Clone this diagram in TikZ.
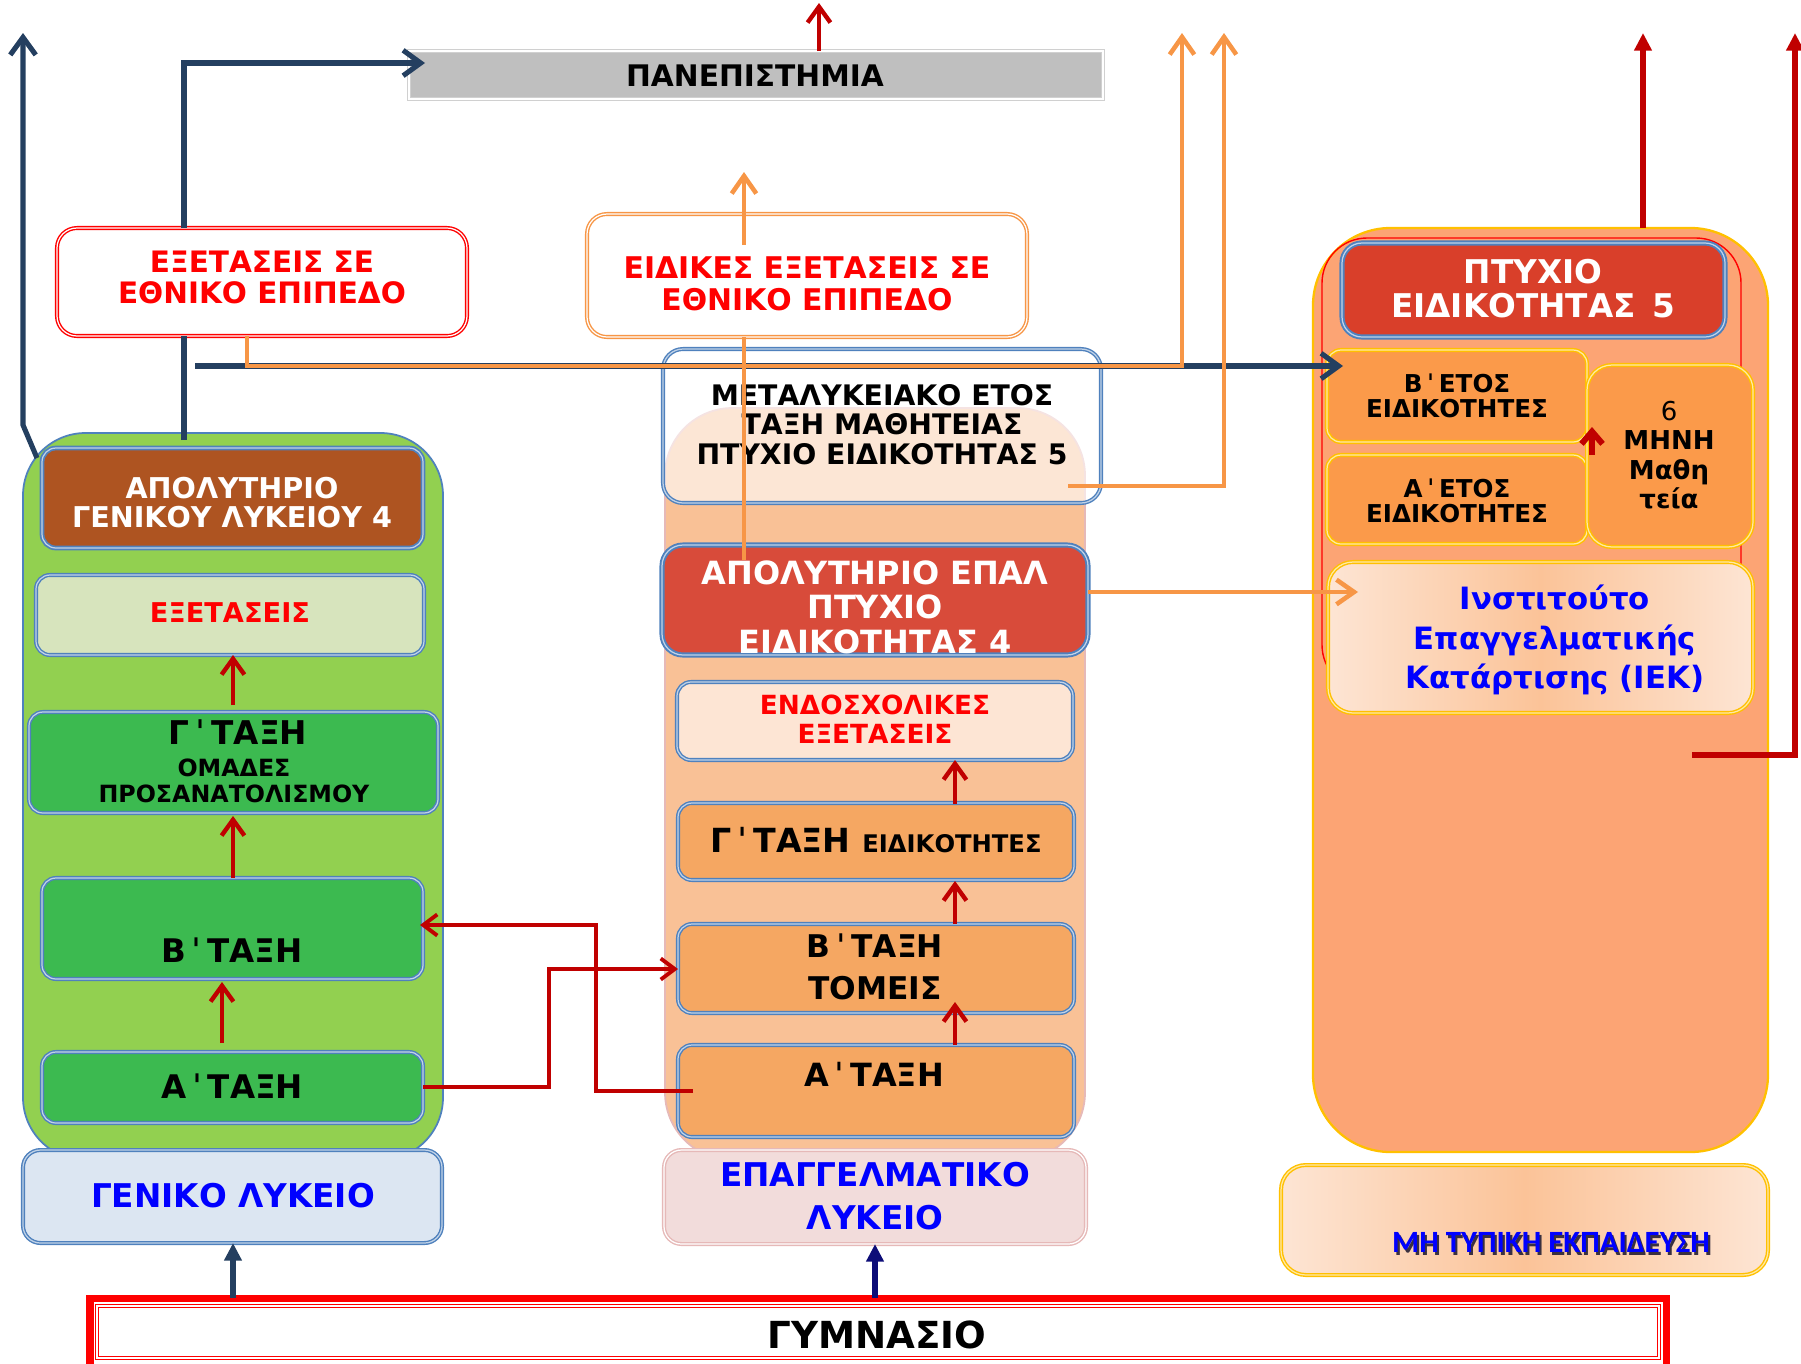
\documentclass[tikz,border=0pt]{standalone}
\usepackage{fontspec}
\setmainfont{DejaVu Sans}
\newfontfamily\calfont{Carlito}
\usetikzlibrary{arrows.meta}
\definecolor{cNavy}{HTML}{243F60}
\definecolor{cNavyB}{HTML}{0D0D78}
\definecolor{cDRed}{HTML}{C00000}
\definecolor{cOrange}{HTML}{F79646}
\definecolor{cBlueB}{HTML}{4F81BD}
\definecolor{cGreenCol}{HTML}{92D050}
\definecolor{cGreenBox}{HTML}{3CBA50}
\definecolor{cGreenLt}{HTML}{D7E4BD}
\definecolor{cBrown}{HTML}{AE5421}
\definecolor{cPeachCol}{HTML}{F9C196}
\definecolor{cPeachLt}{HTML}{FDE5D4}
\definecolor{cEpalBox}{HTML}{F5A762}
\definecolor{cEpalRed}{HTML}{D84B3A}
\definecolor{cPinkF}{HTML}{F2DCDB}
\definecolor{cPinkB}{HTML}{E6B9B8}
\definecolor{cGenF}{HTML}{DCE6F2}
\definecolor{cSalmon}{HTML}{FCA474}
\definecolor{cGold}{HTML}{FFC000}
\definecolor{cPtyxio}{HTML}{D93F2A}
\definecolor{cEtos}{HTML}{FB9A4A}
\definecolor{cIekMid}{HTML}{FBC398}
\definecolor{cTxtBlue}{HTML}{0000FF}
\definecolor{cTxtRed}{HTML}{FF0000}
\definecolor{cGray}{HTML}{BFBFBF}
\definecolor{cGrayB}{HTML}{D0D0D0}
\definecolor{cShadow}{HTML}{3A3040}
\newcommand\fs[2]{\fontsize{#1pt}{#2pt}\selectfont\bfseries}
\newcommand\tk{\kern0.18em ˈ\kern0.18em}
\newcommand\shadowed[1]{\rlap{\kern1.2pt\raisebox{-1.4pt}{\color{cShadow}#1}}#1}
\newcommand\mkbox[6][]{\node[inner sep=0pt,outer sep=0pt,#1,minimum width={(#5-#3)*0.02cm},minimum height={(#6-#4)*0.02cm}] (#2) at ({(#3+#5)/2},{(#4+#6)/2}) {};}
\pgfdeclarelayer{cols}
\pgfsetlayers{cols,main}
\tikzset{
  box/.style={rounded corners=0.28cm, line width=0.8pt, double distance=0.7pt},
  bluebox/.style={box, draw=cBlueB, double=cBlueB!35},
  goldbox/.style={box, draw=cGold, double=cGold!35!white},
  grad/.style={left color=cPeachLt, right color=cPeachLt, middle color=cIekMid},
  lbl/.style={align=center, inner sep=0pt},
  redarr/.style={draw=cDRed, line width=2.5pt, -{Straight Barb[length=9pt,width=13pt]}},
  conn/.style={draw=cDRed, line width=2.2pt, -{Straight Barb[length=8pt,width=12pt]}},
  navyline/.style={draw=cNavy, line width=2.9pt},
  navyarr/.style={navyline, -{Straight Barb[length=10pt,width=14.5pt]}},
  orline/.style={draw=cOrange, line width=2.6pt},
  orarr/.style={orline, -{Straight Barb[length=10pt,width=14pt]}},
  triarr/.style={line width=2.9pt, -{Triangle[length=10pt,width=9.6pt]}},
  mhfont/.style={font=\calfont\bfseries\fontsize{17.6}{20}\selectfont}
}
\begin{document}
\begin{tikzpicture}[x=0.02cm,y=-0.02cm]
\useasboundingbox (0,0) rectangle (1801,1363);
% ---------- columns ----------
\begin{pgfonlayer}{cols}
\mkbox[draw=cBlueB,line width=1pt,fill=cGreenCol,rounded corners=1.25cm]{gcol}{23}{433}{443}{1160}
\mkbox[draw=cPinkB,line width=1pt,fill=cPeachCol,rounded corners=1.35cm]{ecol}{665}{408}{1085}{1160}
\mkbox[draw=cGold,line width=1.3pt,fill=cSalmon,rounded corners=1.55cm]{rcol}{1313}{228}{1768}{1152}
\mkbox[draw=red,line width=0.8pt,rounded corners=0.9cm]{rin}{1322}{238}{1741}{690}
\end{pgfonlayer}
% ---------- boxes ----------
\mkbox[fill=cGray,draw=cGrayB,double=white,line width=0.8pt,double distance=0.8pt]{uni}{409}{51}{1103}{99}
\mkbox[box,fill=white,draw=red,double=white,rounded corners=0.4cm]{exam1}{57}{228}{467}{336}
\mkbox[box,fill=white,draw=cOrange,double=white,rounded corners=0.4cm]{exam2}{587}{214}{1027}{337}
\mkbox[bluebox,fill=white,fill opacity=0.6,rounded corners=0.4cm]{meta}{663}{349}{1101}{503}
\mkbox[bluebox,fill=cEpalRed,line width=1.1pt,rounded corners=0.42cm]{apoE}{662}{545}{1088}{655}
\mkbox[bluebox,fill=cPeachLt]{endo}{677}{682}{1073}{760}
\mkbox[bluebox,fill=cEpalBox]{gE}{678}{803}{1074}{880}
\mkbox[bluebox,fill=cEpalBox]{bE}{678}{924}{1074}{1013}
\mkbox[bluebox,fill=cEpalBox]{aE}{678}{1045}{1074}{1137}
\mkbox[box,fill=cPinkF,draw=cPinkB,double=white,rounded corners=0.35cm]{epal}{664}{1150}{1086}{1244}
\mkbox[bluebox,fill=cGenF,rounded corners=0.35cm]{gen}{23}{1150}{442}{1243}
\mkbox[draw=red,line width=4pt,fill=white]{gym}{90}{1298}{1666}{1420}
\mkbox[draw=red,double=white,line width=0.5pt,double distance=0.8pt]{gymi}{97}{1306}{1659}{1358}
\mkbox[bluebox,fill=cBrown,line width=1pt]{apoG}{42}{448}{423}{548}
\mkbox[bluebox,fill=cGreenLt]{exG}{36}{575}{424}{655}
\mkbox[bluebox,fill=cGreenBox]{gG}{29}{712}{438}{813}
\mkbox[bluebox,fill=cGreenBox]{bG}{42}{878}{423}{979}
\mkbox[bluebox,fill=cGreenBox]{aG}{42}{1052}{423}{1123}
\mkbox[bluebox,fill=cPtyxio,line width=1.1pt,rounded corners=0.4cm]{pt5}{1342}{243}{1725}{337}
\mkbox[goldbox,fill=cEtos]{betos}{1327}{350}{1587}{442}
\mkbox[goldbox,fill=cEtos]{aetos}{1327}{455}{1587}{544}
\mkbox[goldbox,fill=cEtos,rounded corners=0.5cm]{mina}{1587}{365}{1753}{547}
\mkbox[goldbox,grad,rounded corners=0.5cm]{iek}{1328}{562}{1753}{713}
\mkbox[goldbox,grad,rounded corners=0.5cm]{mh}{1281}{1165}{1768}{1275}
% ---------- texts ----------
\node[lbl,font=\fs{16.9}{18}] (uniT) at (755,75.5) {ΠΑΝΕΠΙΣΤΗΜΙΑ};
\node[lbl,font=\fs{16.8}{17.6},text=cTxtRed] (ex1T) at (262,277.5) {ΕΞΕΤΑΣΕΙΣ ΣΕ\\ΕΘΝΙΚΟ ΕΠΙΠΕΔΟ};
\node[lbl,font=\fs{17}{18},text=cTxtRed] (ex2T) at (807,284) {ΕΙΔΙΚΕΣ ΕΞΕΤΑΣΕΙΣ ΣΕ\\ΕΘΝΙΚΟ ΕΠΙΠΕΔΟ};
\node[lbl,font=\fs{16.1}{16.7}] (metaT) at (882,424.5) {ΜΕΤΑΛΥΚΕΙΑΚΟ ΕΤΟΣ\\ΤΑΞΗ ΜΑΘΗΤΕΙΑΣ\\ΠΤΥΧΙΟ ΕΙΔΙΚΟΤΗΤΑΣ 5};
\node[lbl,font=\fs{18.2}{19.6},text=white] (apoET) at (875,607) {ΑΠΟΛΥΤΗΡΙΟ ΕΠΑΛ\\ΠΤΥΧΙΟ\\ΕΙΔΙΚΟΤΗΤΑΣ 4};
\node[lbl,font=\fs{15}{16.4},text=cTxtRed] (endoT) at (875,719) {ΕΝΔΟΣΧΟΛΙΚΕΣ\\ΕΞΕΤΑΣΕΙΣ};
\node[lbl] (gET) at (876,840) {\fs{18.9}{20}Γ\tk ΤΑΞΗ {\fs{13.8}{14}ΕΙΔΙΚΟΤΗΤΕΣ}};
\node[lbl,font=\fs{17.8}{23.8}] (bET) at (875,967) {Β\tk ΤΑΞΗ\\ΤΟΜΕΙΣ};
\node[lbl,font=\fs{18.2}{20}] (aET) at (874,1074.5) {Α\tk ΤΑΞΗ};
\node[lbl,font=\fs{18.6}{24.4},text=cTxtBlue] (epalT) at (875,1196) {ΕΠΑΓΓΕΛΜΑΤΙΚΟ\\ΛΥΚΕΙΟ};
\node[lbl,font=\fs{18.6}{20},text=cTxtBlue] (genT) at (233,1196) {ΓΕΝΙΚΟ ΛΥΚΕΙΟ};
\node[lbl,font=\fs{21.2}{22}] (gymT) at (877,1334.5) {ΓΥΜΝΑΣΙΟ};
\node[lbl,font=\fs{16.3}{16.4},text=white] (apoGT) at (232,502.5) {ΑΠΟΛΥΤΗΡΙΟ\\ΓΕΝΙΚΟΥ ΛΥΚΕΙΟΥ 4};
\node[lbl,font=\fs{15.5}{17},text=cTxtRed] (exGT) at (230,613) {ΕΞΕΤΑΣΕΙΣ};
\node[lbl,font=\fs{18.6}{20}] (gGT1) at (238,732.5) {Γ\tk ΤΑΞΗ};
\node[lbl,font=\fs{13.5}{14.7}] (gGT2) at (234,781) {ΟΜΑΔΕΣ\\ΠΡΟΣΑΝΑΤΟΛΙΣΜΟΥ};
\node[lbl,font=\fs{18.5}{20}] (bGT) at (232,950) {Β\tk ΤΑΞΗ};
\node[lbl,font=\fs{18.5}{20}] (aGT) at (232,1086.5) {Α\tk ΤΑΞΗ};
\node[lbl,font=\fs{18.6}{19.3},text=white] (ptT) at (1533,288.5) {ΠΤΥΧΙΟ\\ΕΙΔΙΚΟΤΗΤΑΣ\enspace 5};
\node[lbl,font=\fs{14}{14.2}] (betT) at (1457,395.5) {Β\tk ΕΤΟΣ\\ΕΙΔΙΚΟΤΗΤΕΣ};
\node[lbl,font=\fs{14}{14.2}] (aetT) at (1457,501) {Α\tk ΕΤΟΣ\\ΕΙΔΙΚΟΤΗΤΕΣ};
\node[lbl,font=\fs{14.8}{16.7}] (minT) at (1669,455) {{\mdseries 6}\\ΜΗΝΗ\\Μαθη\\τεία};
\node[lbl,font=\fs{17.5}{22.7},text=cTxtBlue] (iekT) at (1555,640) {Ινστιτούτο\\Επαγγελματικής\\Κατάρτισης (ΙΕΚ)};
\node[lbl,mhfont,text=cTxtBlue] (mhT) at (1551,1244) {\shadowed{ΜΗ ΤΥΠΙΚΗ ΕΚΠΑΙΔΕΥΣΗ}};
% ---------- coordinates ----------
\coordinate (uniIn) at (425,63);
\coordinate (gl) at (37,458);
\coordinate (topL) at (23,33);
\coordinate (topO1) at (1182,33);
\coordinate (topO2) at (1224,33);
\coordinate (topR1) at (1643,33);
\coordinate (topR2) at (1795,33);
\coordinate (topU) at (819,3);
\coordinate (ex2Up) at (744,172);
% ---------- connectors ----------
\draw[navyline] (gcol.north -| 184,0) ++(0,7) -- (exam1.south -| 184,0);
\draw[navyarr] (exam1.north -| 184,0) -- (184,63) -- (uniIn);
\draw[navyarr] (gl) -- (23,425) -- (topL);
\draw[navyarr] (195,366) -- (1343,366);
\draw[redarr] (uni.north -| 819,0) -- (topU);
\draw[orarr] (exam1.south -| 247,0) -- (247,366) -- (1182,366) -- (topO1);
\draw[orarr] (1068,486) -- (1224,486) -- (topO2);
\draw[orline] (744,560) -- (exam2.south -| 744,0);
\draw[orarr] (744,245) -- (ex2Up);
\draw[orarr] (1088,592) -- (1358,592);
% green column
\draw[redarr] (233,705) -- (exG.south -| 233,0);
\draw[redarr] (233,878) -- (233,816);
\draw[redarr] (222,1043) -- (222,982);
% EPAL column
\draw[redarr] (955,804) -- (endo.south -| 955,0);
\draw[redarr] (955,924) -- (955,881);
\draw[redarr] (955,1045) -- (955,1002);
% between columns
\draw[conn] (aG.east |- 0,1087) -- (549,1087) -- (549,969) -- (bE.west |- 0,969);
\draw[conn] (693,1091) -- (596,1091) -- (596,925) -- (420,925);
% gymnasio
\draw[triarr,draw=cNavy,fill=cNavy] (gym.north -| 233,0) -- (gen.south -| 233,0);
\draw[triarr,draw=cNavyB,fill=cNavyB] (gym.north -| 875,0) -- (epal.south -| 875,0);
% right column
\draw[draw=cDRed,line width=3.4pt,-{Triangle[length=10pt,width=9.6pt]}] (rcol.north -| 1643,0) -- (topR1);
\draw[draw=cDRed,line width=3.4pt,-{Triangle[length=10pt,width=9.6pt]}] (1692,755) -- (1795,755) -- (topR2);
\draw[draw=cDRed,line width=3.4pt,-{Straight Barb[length=7pt,width=12pt]}] (aetos.north east) ++(5,0) -- (1592,427);
\end{tikzpicture}
\end{document}
